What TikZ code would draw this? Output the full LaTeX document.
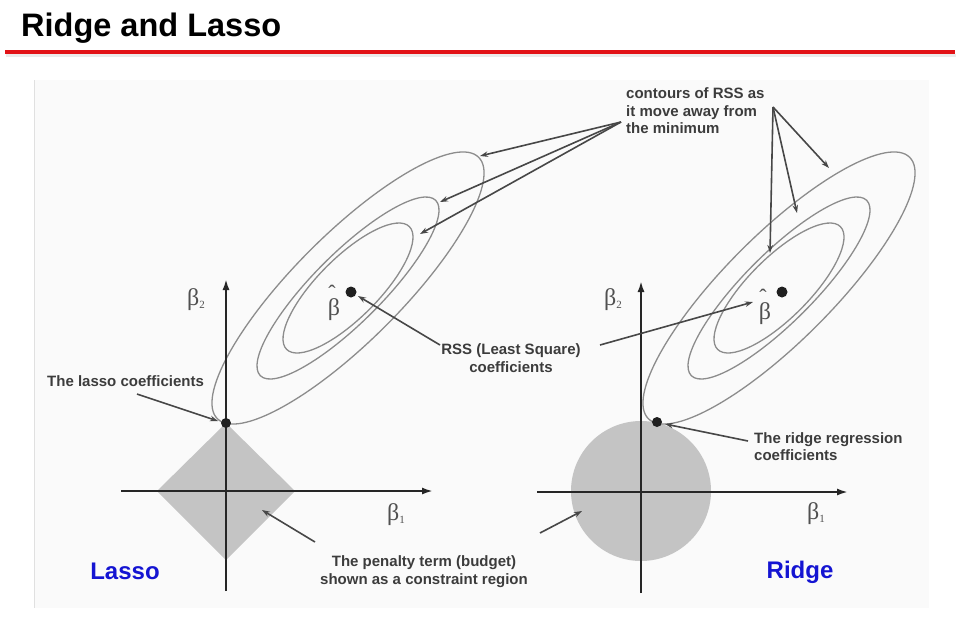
\documentclass[tikz,border=0pt]{standalone}
\usepackage{fontspec}
\setmainfont{Liberation Sans}
\newfontfamily\serifgreek{Liberation Serif}
\usetikzlibrary{arrows.meta}
\definecolor{rulered}{RGB}{226,18,22}
\definecolor{labelblue}{RGB}{20,20,210}
\definecolor{contourgray}{RGB}{140,140,140}
\definecolor{regiongray}{RGB}{196,196,196}
\definecolor{txtgray}{RGB}{60,60,60}
\definecolor{greekgray}{RGB}{80,80,80}
\tikzset{
  contour/.style={draw=contourgray, line width=1.3pt},
  axis/.style={draw=black!85, line width=2pt, -{Latex[length=11pt,width=7pt]}},
  pointer/.style={draw=black!72, line width=1.6pt, -{Stealth[length=8pt,width=5.5pt]}},
  note/.style={font=\fontsize{15}{17.5}\selectfont\bfseries, text=txtgray, inner sep=0pt},
  greek/.style={font=\serifgreek\fontsize{24}{28}\selectfont, text=greekgray, inner sep=0pt},
  hatmark/.style={font=\serifgreek\fontsize{22}{22}\selectfont, text=greekgray, inner sep=0pt},
  method/.style={font=\fontsize{24}{28}\selectfont\bfseries, text=labelblue, inner sep=0pt},
  dotmark/.style={fill=black!88, draw=none},
}
\newcommand{\gsub}[1]{\raisebox{-3pt}{\fontsize{11}{11}\selectfont #1}}
\begin{document}
\begin{tikzpicture}[x=1pt,y=-1pt]
\useasboundingbox (0,0) rectangle (960,633);
% title
\node[anchor=base west, inner sep=0pt, font=\fontsize{32.5}{36}\selectfont\bfseries] (title) at (21,36) {Ridge and Lasso};
\draw[black!8, line width=2.5pt] (6,55.5) -- (956,55.5);
\draw[rulered, line width=4pt] (5,52) -- (955,52);
% picture panel
\fill[black!2] (34,80) rectangle (929,608);
\draw[black!12, line width=1pt] (34,80) -- (34,608);
% constraint regions
\fill[regiongray] (226,423) -- (295,491) -- (226,560) -- (157,491) -- cycle;
\fill[regiongray] (641,491) circle (70);
% RSS contours, left
\coordinate (cL) at (348,288);
\draw[contour, rotate around={45:(cL)}] (cL) ellipse [x radius=184.8pt, y radius=53.4pt];
\draw[contour, rotate around={45:(cL)}] (cL) ellipse [x radius=124pt, y radius=34.4pt];
\draw[contour, rotate around={45:(cL)}] (cL) ellipse [x radius=86.8pt, y radius=30.2pt];
% RSS contours, right
\coordinate (cR) at (779,288);
\draw[contour, rotate around={45:(cR)}] (cR) ellipse [x radius=184.8pt, y radius=53.4pt];
\draw[contour, rotate around={45:(cR)}] (cR) ellipse [x radius=124pt, y radius=34.4pt];
\draw[contour, rotate around={45:(cR)}] (cR) ellipse [x radius=86.8pt, y radius=30.2pt];
% axes
\coordinate (xL0) at (121,491); \coordinate (xL1) at (433,491);
\coordinate (yL0) at (226,591); \coordinate (yL1) at (226,279);
\draw[axis] (xL0) -- (xL1);
\draw[axis] (yL0) -- (yL1);
\coordinate (xR0) at (537,492); \coordinate (xR1) at (848,492);
\coordinate (yR0) at (641,593); \coordinate (yR1) at (641,281);
\draw[axis] (xR0) -- (xR1);
\draw[axis] (yR0) -- (yR1);
% dots
\node[dotmark, circle, minimum size=10pt, inner sep=0pt] (lassodot) at (226,423) {};
\node[dotmark, circle, minimum size=10pt, inner sep=0pt] (ridgedot) at (657,422) {};
\node[dotmark, circle, minimum size=11pt, inner sep=0pt] (hatdotL) at (351,292) {};
\node[dotmark, circle, minimum size=11pt, inner sep=0pt] (hatdotR) at (782,292) {};
% greek labels
\node[greek] (b2L) at (196,300) {β\gsub{2}};
\node[greek] (b1L) at (396,515) {β\gsub{1}};
\node[greek] (b2R) at (613,300) {β\gsub{2}};
\node[greek] (b1R) at (816,514) {β\gsub{1}};
\node[greek] (bhatL) at (334,310) {β};
\node[hatmark] (hatL) at (332,293) {ˆ};
\node[greek] (bhatR) at (765,314) {β};
\node[hatmark] (hatR) at (763,297) {ˆ};
% notes
\node[note, anchor=west, align=left] (contours) at (626,111) {contours of RSS as\\it move away from\\the minimum};
\node[note, align=center] (rss) at (511,358) {RSS (Least Square)\\coefficients};
\node[note, anchor=west] (lassocoef) at (47,381) {The lasso coefficients};
\node[note, anchor=west, align=left] (ridgecoef) at (754,446.5) {The ridge regression\\coefficients};
\node[note, align=center] (penalty) at (424,571.5) {The penalty term (budget)\\shown as a constraint region};
\node[method] (lasso) at (125,571) {Lasso};
\node[method] (ridge) at (800,572) {Ridge};
% pointer endpoints
\coordinate (cfL) at (621,122);
\coordinate (cfR) at (773,107);
\coordinate (tL1) at (480,156);
\coordinate (tL2) at (440,202);
\coordinate (tL3) at (420,234);
\coordinate (tR1) at (770,253);
\coordinate (tR2) at (797,213);
\coordinate (tR3) at (829,168);
\coordinate (rssL0) at (440,345);
\coordinate (rssL1) at (358,296);
\coordinate (rssR0) at (600,345);
\coordinate (rssR1) at (753,302);
\coordinate (lasso0) at (137,394);
\coordinate (lasso1) at (218,421);
\coordinate (ridge0) at (748,441);
\coordinate (ridge1) at (665,424);
\coordinate (penL0) at (315,542);
\coordinate (penL1) at (262,510);
\coordinate (penR0) at (540,533);
\coordinate (penR1) at (582,511);
% pointers
\draw[pointer] (cfL) -- (tL1);
\draw[pointer] (cfL) -- (tL2);
\draw[pointer] (cfL) -- (tL3);
\draw[pointer] (cfR) -- (tR1);
\draw[pointer] (cfR) -- (tR2);
\draw[pointer] (cfR) -- (tR3);
\draw[pointer] (rssL0) -- (rssL1);
\draw[pointer] (rssR0) -- (rssR1);
\draw[pointer] (lasso0) -- (lasso1);
\draw[pointer] (ridge0) -- (ridge1);
\draw[pointer] (penL0) -- (penL1);
\draw[pointer] (penR0) -- (penR1);
\end{tikzpicture}
\end{document}
